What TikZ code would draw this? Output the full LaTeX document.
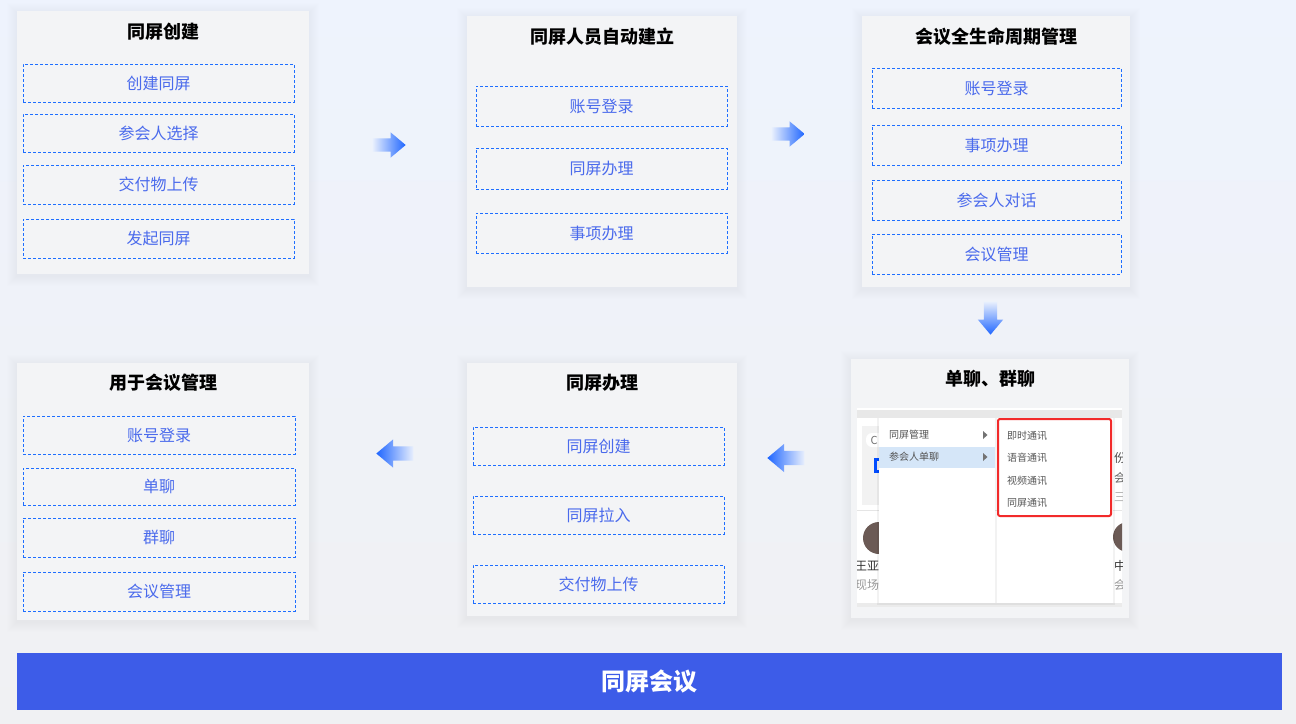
\documentclass[tikz,border=0pt]{standalone}
\usepackage{fontspec}
\setmainfont{Noto Sans CJK SC}
\usetikzlibrary{shapes.arrows,fit}
\definecolor{bgtop}{HTML}{EEF3FD}
\definecolor{bgbot}{HTML}{F0F1F3}
\definecolor{panelfill}{HTML}{F3F4F6}
\definecolor{dashblue}{HTML}{1E6EFF}
\definecolor{itemtext}{HTML}{4A6AEC}
\definecolor{barblue}{HTML}{3D5CE8}
\definecolor{arrowB}{HTML}{1F66FF}
\definecolor{arrowL}{HTML}{E8EFFD}
\definecolor{hl}{HTML}{D5E6F8}
\definecolor{menutext}{HTML}{555555}
\definecolor{redbox}{HTML}{F22A2A}
\definecolor{cardgray}{HTML}{F2F2F2}
\definecolor{avatar}{HTML}{6B5A55}
\tikzset{
  panel/.style={fill=panelfill, draw=none, inner sep=0pt},
  ptitle/.style={font=\fontsize{18}{20}\selectfont\bfseries, text=black},
  itembox/.style={draw=dashblue, dash pattern=on 3pt off 2pt, line width=1pt, inner sep=0pt},
  itemtext/.style={text=itemtext, font=\fontsize{16}{18}\selectfont, inner sep=0pt},
  blockarrow/.style={single arrow, draw=none, inner sep=6.5pt, single arrow head extend=6pt, single arrow tip angle=80, anchor=tip},
  menuitem/.style={font=\fontsize{10}{12}\selectfont, text=menutext, anchor=west, inner sep=0pt},
  bgtext/.style={font=\fontsize{12}{14}\selectfont, text=#1, anchor=west, inner sep=0pt},
}
\newcommand\panelbox[5]{%
  \foreach \s in {1,2,...,10}{\fill[black,opacity=0.0058] (#2-\s,#3-\s+2) rectangle (#4+\s,#5+\s+2);}
  \node[panel, fit={(#2,#3) (#4,#5)}] (#1) {};}
\newcommand\itm[6]{\node[itembox, fit={(#2,#3) (#4,#5)}] (#1) {};
  \node[itemtext] (#1t) at (#1.center) {#6};}
\begin{document}
\begin{tikzpicture}[x=1pt,y=-1pt]
\useasboundingbox (0,0) rectangle (1296,723);
\shade[top color=bgtop, bottom color=bgbot] (0,0) rectangle (1296,723);

% Panel 1
\panelbox{P1}{17}{11}{309}{274}
\node[ptitle] (t1) at (163,32) {同屏创建};
\itm{a1}{23}{64}{294}{102}{创建同屏}
\itm{a2}{23}{114}{294}{152}{参会人选择}
\itm{a3}{23}{165}{294}{204}{交付物上传}
\itm{a4}{23}{219}{294}{258}{发起同屏}

% Panel 2
\panelbox{P2}{467}{16}{737}{287}
\node[ptitle] (t2) at (602,37) {同屏人员自动建立};
\itm{b1}{476}{86}{727}{126}{账号登录}
\itm{b2}{476}{148}{727}{189}{同屏办理}
\itm{b3}{476}{213}{727}{253}{事项办理}

% Panel 3
\panelbox{P3}{862}{16}{1130}{287}
\node[ptitle] (t3) at (996,37) {会议全生命周期管理};
\itm{c1}{872}{68}{1121}{108}{账号登录}
\itm{c2}{872}{125}{1121}{165}{事项办理}
\itm{c3}{872}{180}{1121}{220}{参会人对话}
\itm{c4}{872}{234}{1121}{274}{会议管理}

% Panel 4
\panelbox{P4}{851}{359}{1129}{618}
\node[ptitle] (t4) at (990,379) {单聊、群聊};
\begin{scope}
\clip (857,408) rectangle (1122,607);
\fill[white] (857,408) rectangle (1122,607);
\fill[black!9] (857,410) rectangle (1122,418);
\fill[cardgray] (862,426) rectangle (890,505);
\fill[white, rounded corners=6pt] (866,433) rectangle (892,447);
\node[font=\fontsize{11}{12}\selectfont, text=black!55, inner sep=0pt] (sc) at (874,440) {C};
\draw[blue!70!cyan, line width=3pt] (884,459) -- (875,459) -- (875,471) -- (884,471);
\node[bgtext=black!70] (sr1) at (1114,458) {份};
\node[bgtext=black!60] (sr2) at (1114,478) {会};
\node[bgtext=black!30] (sr3) at (1114,497) {三};
\draw[black!10, line width=1pt] (857,510) -- (1122,510);
\fill[avatar] (879,538) circle (16);
\fill[avatar] (1128,537) circle (15);
\node[bgtext=black!80] (sn1) at (855,566) {王亚娟};
\node[bgtext=black!40] (sn2) at (855,585) {现场会};
\node[bgtext=black!80] (sn3) at (1114,566) {中};
\node[bgtext=black!40] (sn4) at (1114,585) {会};
\fill[black!8] (857,603) rectangle (1122,607);
\fill[black,opacity=0.05] (877,418) rectangle (1115,605);
\fill[white] (879,418) rectangle (995,603);
\fill[white] (997,418) rectangle (1113,603);
\fill[hl] (879,447) rectangle (995,468);
\node[menuitem] (m1) at (889,435) {同屏管理};
\node[menuitem] (m2) at (889,457) {参会人单聊};
\fill[black!55] (983,431) -- (987.5,435) -- (983,439) -- cycle;
\fill[black!55] (983,453) -- (987.5,457) -- (983,461) -- cycle;
\node[menuitem] (r1) at (1007,436) {即时通讯};
\node[menuitem] (r2) at (1007,458) {语音通讯};
\node[menuitem] (r3) at (1007,481) {视频通讯};
\node[menuitem] (r4) at (1007,503) {同屏通讯};
\draw[redbox, line width=2pt, rounded corners=2pt] (998,419) rectangle (1111,516);
\end{scope}

% Panel 5
\panelbox{P5}{467}{363}{737}{616}
\node[ptitle] (t5) at (602,383) {同屏办理};
\itm{e1}{473}{427}{724}{465}{同屏创建}
\itm{e2}{473}{496}{724}{534}{同屏拉入}
\itm{e3}{473}{565}{724}{603}{交付物上传}

% Panel 6
\panelbox{P6}{17}{363}{309}{620}
\node[ptitle] (t6) at (163,383) {用于会议管理};
\itm{f1}{23}{416}{295}{454}{账号登录}
\itm{f2}{23}{468}{295}{505}{单聊}
\itm{f3}{23}{518}{295}{557}{群聊}
\itm{f4}{23}{572}{295}{611}{会议管理}

% Flow arrows
\node[blockarrow, minimum height=33pt, minimum width=25pt, left color=arrowL, right color=arrowB] (ar1) at (406,145) {};
\node[blockarrow, minimum height=33pt, minimum width=25pt, left color=arrowL, right color=arrowB] (ar2) at (805,134) {};
\node[blockarrow, shape border rotate=270, minimum height=33pt, minimum width=25pt, top color=arrowL, bottom color=arrowB] (ar3) at (990.5,335) {};
\node[blockarrow, shape border rotate=180, minimum height=37pt, minimum width=28pt, inner sep=7pt, single arrow head extend=7pt, left color=arrowB, right color=arrowL] (ar4) at (767,458) {};
\node[blockarrow, shape border rotate=180, minimum height=37pt, minimum width=28pt, inner sep=7pt, single arrow head extend=7pt, left color=arrowB, right color=arrowL] (ar5) at (376,453.5) {};

% Bottom bar
\node[fill=barblue, inner sep=0pt, fit={(17,653) (1282,710)}] (bar) {};
\node[text=white, font=\fontsize{24}{28}\selectfont\bfseries] (bart) at (bar.center) {同屏会议};
\end{tikzpicture}
\end{document}
